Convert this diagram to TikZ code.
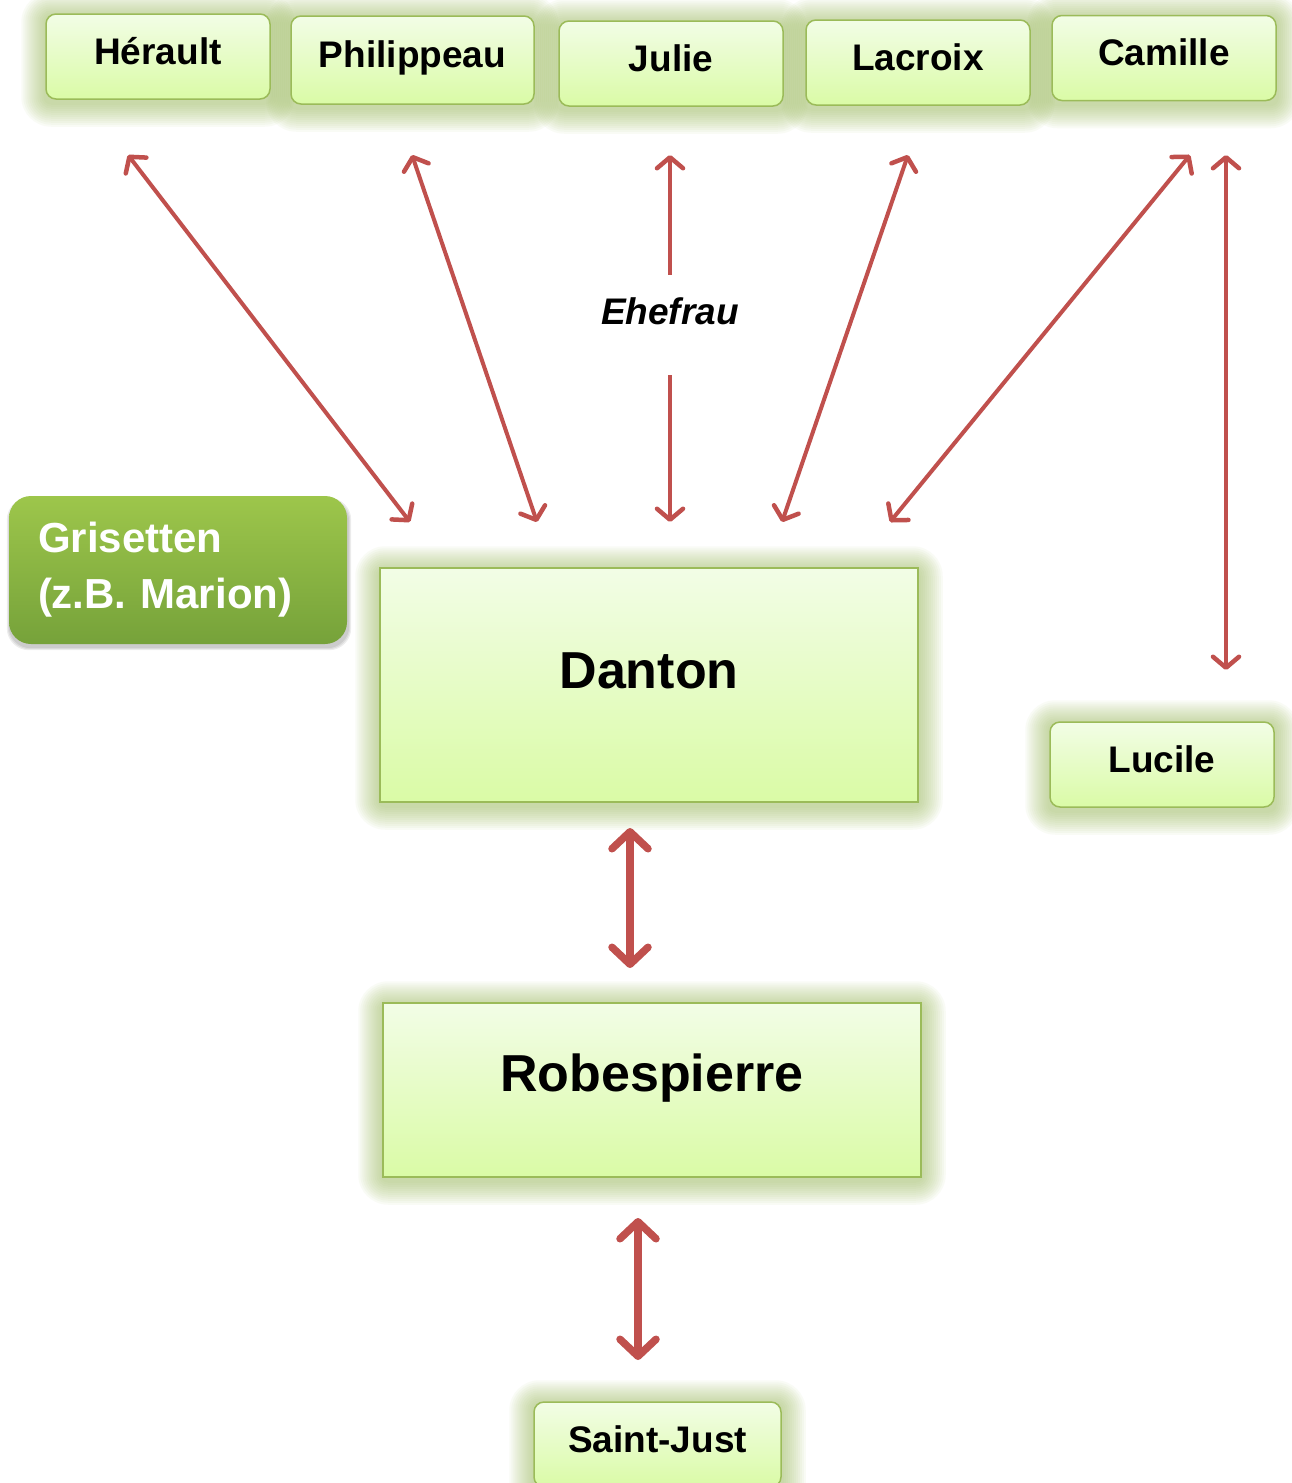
\documentclass[tikz,border=0pt]{standalone}
\usepackage{fontspec}
\setmainfont{Liberation Sans}
\usetikzlibrary{arrows.meta,calc}
\pgfdeclarelayer{canvas}
\pgfdeclarelayer{background}
\pgfsetlayers{canvas,background,main}
\definecolor{boxtop}{HTML}{F2FDE6}
\definecolor{boxbot}{HTML}{DAFBA6}
\definecolor{boxline}{HTML}{9BBB59}
\definecolor{glowc}{HTML}{9BBB59}
\definecolor{arrowc}{HTML}{C0504D}
\definecolor{gristop}{HTML}{9DC64B}
\definecolor{grisbot}{HTML}{76A23A}
\newcommand\glowof[1]{\foreach \k [evaluate=\k as \r using 6+2*\k] in {1,...,12}{\fill[glowc,opacity=0.055,rounded corners=\r pt] ($(#1.north west)+(-2*\k,-2*\k+3)$) rectangle ($(#1.south east)+(2*\k,2*\k+3)$);}}
\begin{document}
\begin{tikzpicture}[x=1pt,y=-1pt,
 namebox/.style={draw=boxline, line width=1.5pt, rounded corners=10pt, top color=boxtop, bottom color=boxbot, inner sep=0pt, minimum width=224pt, minimum height=85pt, text height=27pt, text depth=12pt, font=\bfseries\fontsize{37}{40}\selectfont},
 bigbox/.style={draw=boxline, line width=1.5pt, top color=boxtop, bottom color=boxbot, inner sep=0pt, minimum width=538pt, font=\bfseries\fontsize{52}{60}\selectfont},
 grisbox/.style={rounded corners=22pt, top color=gristop, bottom color=grisbot, text=white, font=\bfseries\fontsize{42}{56}\selectfont, align=left, text width=280pt, minimum width=338pt, minimum height=148pt, inner sep=0pt},
 rel/.style={draw=arrowc, line width=4pt, {Straight Barb[length=11pt,width=26pt,line width=4.5pt,round]}-{Straight Barb[length=11pt,width=26pt,line width=4.5pt,round]}},
 strongrel/.style={draw=arrowc, line width=7.5pt, {Straight Barb[length=17pt,width=36pt,line width=7.5pt,round]}-{Straight Barb[length=17pt,width=36pt,line width=7.5pt,round]}},
 rellabel/.style={fill=white, inner sep=0pt, minimum height=100pt, text height=20pt, text depth=20pt, font=\bfseries\itshape\fontsize{37}{40}\selectfont},
]
\clip (0,0) rectangle (1292,1483);
\begin{pgfonlayer}{canvas}
\fill[white] (0,0) rectangle (1292,1483);
\end{pgfonlayer}

% nodes
\node[namebox] (her) at (158,56.5) {Hérault};
\node[namebox, minimum width=243pt, minimum height=88pt] (phi) at (412.5,60) {Philippeau};
\node[namebox] (jul) at (671,63.5) {Julie};
\node[namebox] (lac) at (918,62.5) {Lacroix};
\node[namebox] (cam) at (1164,58) {Camille};
\node[namebox] (luc) at (1162,764.5) {Lucile};
\node[namebox, minimum width=247pt] (sj) at (657.5,1444.5) {Saint-Just};
\node[bigbox, minimum height=234pt, text height=38pt, text depth=31pt] (dan) at (649,685) {Danton};
\node[bigbox, minimum height=174pt, text height=38pt, text depth=35pt] (rob) at (652,1090) {Robespierre};
\node[grisbox] (gri) at (178,570) {Grisetten\\(z.B. Marion)};

\begin{pgfonlayer}{background}
\glowof{her}\glowof{phi}\glowof{jul}\glowof{lac}\glowof{cam}\glowof{luc}\glowof{sj}\glowof{dan}\glowof{rob}
\foreach \k in {1,2,3}{\fill[black,opacity=0.07,rounded corners=22pt] ($(gri.north west)+(1-\k,5-\k)$) rectangle ($(gri.south east)+(1+\k,3+\k)$);}
\end{pgfonlayer}

% arrow end points
\coordinate (herA) at (128,155);  \coordinate (danH) at (410,522);
\coordinate (phiA) at (412,155);  \coordinate (danP) at (537,522);
\coordinate (julA) at (670,155);  \coordinate (danJ) at (670,522);
\coordinate (lacA) at (908,155);  \coordinate (danL) at (782,522);
\coordinate (camA) at (1190,155); \coordinate (danC) at (890,522);
\coordinate (camB) at (1226,155); \coordinate (lucA) at (1226,670);
\coordinate (danB) at (630,828);  \coordinate (robA) at (630,968);
\coordinate (robB) at (638,1218); \coordinate (sjA) at (638,1360);

\draw[rel] (herA) -- (danH);
\draw[rel] (phiA) -- (danP);
\draw[rel] (julA) -- node[rellabel, pos=0.463] (ehe) {Ehefrau} (danJ);
\draw[rel] (lacA) -- (danL);
\draw[rel] (camA) -- (danC);
\draw[rel] (camB) -- (lucA);
\draw[strongrel] (danB) -- (robA);
\draw[strongrel] (robB) -- (sjA);
\end{tikzpicture}
\end{document}
